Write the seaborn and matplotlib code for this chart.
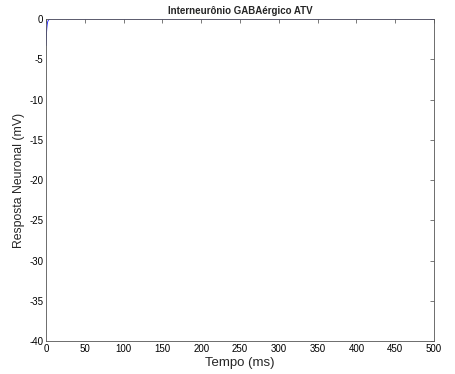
import numpy as np
import pandas as pd
import seaborn as sns
import matplotlib
matplotlib.use('Agg')
import matplotlib.pyplot as plt
from matplotlib import font_manager

# dados
tempo = [0, 0.5, 1, 1.5, 2, 2.5, 3, 4, 5, 6, 100, 200, 300, 400, 500]
resposta = [-3.3, -2.0, -1.2, -0.7, -0.4, -0.25, -0.15, -0.05, -0.01, 0, 0, 0, 0, 0, 0]

df = pd.DataFrame({'tempo': tempo, 'resposta': resposta})

sns.set_style('white')

# registrar a Liberation Sans normal (evitar a versão Narrow)
fam = 'DejaVu Sans'
for f in font_manager.findSystemFonts():
    if f.endswith('LiberationSans-Regular.ttf'):
        font_manager.fontManager.addfont(f)
        fam = font_manager.FontProperties(fname=f).get_name()
        for g in font_manager.findSystemFonts():
            if g.endswith('LiberationSans-Bold.ttf'):
                font_manager.fontManager.addfont(g)
        break
plt.rcParams['font.family'] = [fam, 'DejaVu Sans']
plt.rcParams['axes.unicode_minus'] = False

fig = plt.figure(figsize=(4.56, 3.74), dpi=100)
ax = fig.add_axes([0.1009, 0.088, 0.8509, 0.861])

sns.lineplot(data=df, x='tempo', y='resposta', color='#1a1aff', linewidth=0.6, ax=ax)

ax.set_xlim(0, 500)
ax.set_ylim(-40, 0)
ax.set_xticks(np.arange(0, 501, 50))
ax.set_yticks(np.arange(-40, 1, 5))
ax.tick_params(direction='in', length=3, width=0.5, colors='#444444',
               labelcolor='black', labelsize=7, top=True, right=True, pad=2)
for s in ax.spines.values():
    s.set_linewidth(0.6)
    s.set_color('#555555')

ax.set_xlabel('Tempo (ms)', fontsize=9.5, labelpad=2)
ax.set_ylabel('Resposta Neuronal (mV)', fontsize=8.8, labelpad=3)
ax.set_title('Interneurônio GABAérgico ATV', fontsize=7, fontweight='bold', pad=4)

fig.savefig('out.png', dpi=100)
